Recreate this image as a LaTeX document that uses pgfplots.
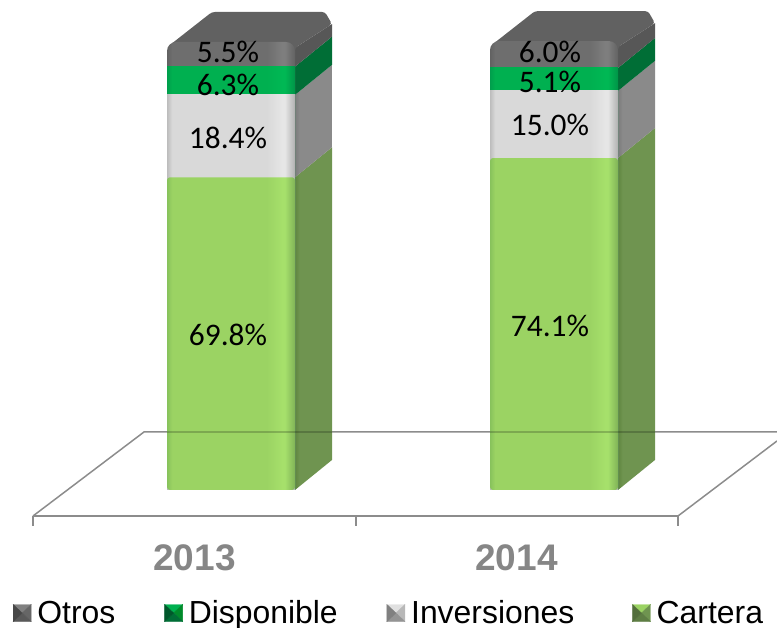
\documentclass[border=0pt]{standalone}
\usepackage{fontspec}
\setmainfont{Liberation Sans}
\newfontfamily\carlito{Carlito}
\usepackage{pgfplots}
\usepackage{pgfplotstable}
\pgfplotsset{compat=1.18}
\makeatletter
% bars are rectangles: build them from straight segments so that rounded corners apply
\renewcommand\pgfpathrectanglecorners[2]{%
  \pgf@process{#1}\edef\rc@xa{\the\pgf@x}\edef\rc@ya{\the\pgf@y}%
  \pgf@process{#2}\edef\rc@xb{\the\pgf@x}\edef\rc@yb{\the\pgf@y}%
  \pgfpathmoveto{\pgfqpoint{\rc@xa}{\rc@ya}}%
  \pgfpathlineto{\pgfqpoint{\rc@xb}{\rc@ya}}%
  \pgfpathlineto{\pgfqpoint{\rc@xb}{\rc@yb}}%
  \pgfpathlineto{\pgfqpoint{\rc@xa}{\rc@yb}}%
  \pgfpathclose}
\makeatother
\definecolor{gridg}{HTML}{8C8C8C}
\definecolor{yearg}{HTML}{868686}
\definecolor{cartS}{HTML}{6F9450}
\definecolor{cartSd}{HTML}{5F863F}
\definecolor{invS}{HTML}{8A8A8A}
\definecolor{invSd}{HTML}{7C7C7C}
\definecolor{dispS}{HTML}{006E36}
\definecolor{otrS}{HTML}{575757}
\definecolor{topF}{HTML}{616161}
\definecolor{cE}{HTML}{87C25C}\definecolor{cM}{HTML}{9BD363}\definecolor{cH}{HTML}{A6E06B}\definecolor{cD}{HTML}{80B357}
\definecolor{iE}{HTML}{BDBDBD}\definecolor{iM}{HTML}{D9D9D9}\definecolor{iH}{HTML}{E6E6E6}\definecolor{iD}{HTML}{B0B0B0}
\definecolor{dE}{HTML}{009E4C}\definecolor{dM}{HTML}{00B050}\definecolor{dH}{HTML}{00B854}\definecolor{dD}{HTML}{009447}
\definecolor{oE}{HTML}{626262}\definecolor{oM}{HTML}{6E6E6E}\definecolor{oH}{HTML}{7E7E7E}\definecolor{oD}{HTML}{626262}
\newcommand\frontshade[5]{\pgfdeclarehorizontalshading{#1}{100bp}{color(0bp)=(#2);color(25bp)=(#2);color(27bp)=(#3);color(64bp)=(#3);color(70bp)=(#4);color(71bp)=(#4);color(75bp)=(#5);color(100bp)=(#5)}}
\frontshade{cartF}{cE}{cM}{cH}{cD}
\frontshade{invF}{iE}{iM}{iH}{iD}
\frontshade{dispF}{dE}{dM}{dH}{dD}
\frontshade{otrF}{oE}{oM}{oH}{oD}
\pgfdeclarehorizontalshading{cartSide}{100bp}{color(0bp)=(cartSd);color(25bp)=(cartSd);color(31bp)=(cartS);color(100bp)=(cartS)}
\pgfdeclarehorizontalshading{invSide}{100bp}{color(0bp)=(invSd);color(25bp)=(invSd);color(31bp)=(invS);color(100bp)=(invS)}
\pgfplotstableread{
x   Cartera Inversiones Disponible Otros
231 69.8    18.4        6.3        5.5
}\sharesA
\pgfplotstableread{
x   Cartera Inversiones Disponible Otros
554 74.1    15.0        5.1        6.0
}\sharesB
\begin{document}
\begin{tikzpicture}[x=1pt,y=1pt]
\path[use as bounding box] (0,0) rectangle (777,628);
\begin{axis}[
  at={(33pt,112pt)}, anchor=south west,
  scale only axis, width=645pt, height=504pt,
  xmin=33, xmax=678, ymin=-5.804, ymax=106.696,
  clip=false,
  axis x line*=bottom, axis y line=none,
  axis line style={gridg, line width=1.5pt, -},
  x axis line style={-},
  tick style={gridg, line width=1.5pt},
  tick align=outside,
  major tick length=10pt,
  xtick={33,356,678}, xticklabels={},
  extra x ticks={194.5,516.5},
  extra x tick labels={2013,2014},
  extra x tick style={major tick length=0pt, tick style={draw=none},
    ticklabel style={font=\fontsize{37}{40}\selectfont\bfseries, text=yearg, yshift=-25pt}},
  legend style={at={(axis cs:13,-27.46)}, anchor=west, draw=none, fill=none,
    inner sep=0pt, outer sep=0pt,
    font=\fontsize{31.9}{34}\selectfont, legend columns=4,
    /tikz/every odd column/.append style={column sep=4pt},
    /tikz/column 2/.style={column sep=47pt},
    /tikz/column 4/.style={column sep=47pt},
    /tikz/column 6/.style={column sep=56pt}},
  legend cell align=left,
  legsq/.style n args={4}{legend image code/.code={
    \fill[#1] (0pt,8.5pt) -- (18pt,8.5pt) -- (9pt,0pt) -- cycle;
    \fill[#2] (18pt,8.5pt) -- (18pt,-8.5pt) -- (9pt,0pt) -- cycle;
    \fill[#3] (18pt,-8.5pt) -- (0pt,-8.5pt) -- (9pt,0pt) -- cycle;
    \fill[#4] (0pt,-8.5pt) -- (0pt,8.5pt) -- (9pt,0pt) -- cycle;
  }},
  frontbar/.style={ybar, bar width=128, bar shift=0pt, draw=none, mark=none, forget plot},
]
\addlegendimage{legsq={black!50}{black!60}{black!65}{black!72}}
\addlegendentry{Otros}
\addlegendimage{legsq={dM}{dispS!80!green}{dispS}{dispS!80!black}}
\addlegendentry{Disponible}
\addlegendimage{legsq={black!12}{black!28}{black!42}{black!50}}
\addlegendentry{Inversiones}
\addlegendimage{legsq={cM}{cartS}{cartS!85!black}{cartS!75!black}}
\addlegendentry{Cartera}
% floor
\addplot[forget plot, gridg, line width=1.5pt, mark=none] coordinates {(33,-5.804) (144,12.95) (777,12.95)};
\addplot[forget plot, gridg, line width=1.5pt, mark=none] coordinates {(678,-5.804) (777,10.94)};
% side and top faces 2013
\addplot[forget plot, shading=cartSide, draw=none, mark=none] coordinates {(295,0) (332,6.7) (332,76.5) (295,69.8)};
\addplot[forget plot, shading=invSide, draw=none, mark=none] coordinates {(295,69.8) (332,76.5) (332,94.9) (295,88.2)};
\addplot[forget plot, fill=dispS, draw=none, mark=none] coordinates {(295,88.2) (332,94.9) (332,101.2) (295,94.5)};
\addplot[forget plot, fill=otrS, draw=none, mark=none] coordinates {(295,94.5) (332,101.2) (332,104) (295,98.7)};
\addplot[forget plot, fill=topF, draw=none, mark=none, rounded corners=3pt] coordinates {(172,99.7) (212,106.7) (325,106.7) (332,104) (295,98.7) (295,95) (275,95) (275,99.7)};
% side and top faces 2014
\addplot[forget plot, shading=cartSide, draw=none, mark=none] coordinates {(618,0) (655,6.7) (655,80.8) (618,74.1)};
\addplot[forget plot, shading=invSide, draw=none, mark=none] coordinates {(618,74.1) (655,80.8) (655,95.8) (618,89.1)};
\addplot[forget plot, fill=dispS, draw=none, mark=none] coordinates {(618,89.1) (655,95.8) (655,100.9) (618,94.2)};
\addplot[forget plot, fill=otrS, draw=none, mark=none] coordinates {(618,94.2) (655,100.9) (655,104.2) (618,98.9)};
\addplot[forget plot, fill=topF, draw=none, mark=none, rounded corners=3pt] coordinates {(495,99.9) (535,106.9) (648,106.9) (655,104.2) (618,98.9) (618,95) (598,95) (598,99.9)};
% front faces, tallest first so that each one is overlaid by the next
\addplot[frontbar, shading=otrF, rounded corners=9pt]
  table[x=x, y expr=\thisrow{Cartera}+\thisrow{Inversiones}+\thisrow{Disponible}+\thisrow{Otros}] {\sharesA};
\addplot[frontbar, shading=dispF]
  table[x=x, y expr=\thisrow{Cartera}+\thisrow{Inversiones}+\thisrow{Disponible}] {\sharesA};
\addplot[frontbar, shading=invF]
  table[x=x, y expr=\thisrow{Cartera}+\thisrow{Inversiones}] {\sharesA};
\addplot[frontbar, shading=cartF, rounded corners=3pt]
  table[x=x, y=Cartera] {\sharesA};
\addplot[frontbar, shading=otrF, rounded corners=9pt]
  table[x=x, y expr=\thisrow{Cartera}+\thisrow{Inversiones}+\thisrow{Disponible}+\thisrow{Otros}] {\sharesB};
\addplot[frontbar, shading=dispF]
  table[x=x, y expr=\thisrow{Cartera}+\thisrow{Inversiones}+\thisrow{Disponible}] {\sharesB};
\addplot[frontbar, shading=invF]
  table[x=x, y expr=\thisrow{Cartera}+\thisrow{Inversiones}] {\sharesB};
\addplot[frontbar, shading=cartF, rounded corners=3pt]
  table[x=x, y=Cartera] {\sharesB};
% back floor line seen through the bars
\addplot[forget plot, black, opacity=0.2, line width=1.5pt, mark=none] coordinates {(167,12.95) (332,12.95)};
\addplot[forget plot, black, opacity=0.2, line width=1.5pt, mark=none] coordinates {(490,12.95) (655,12.95)};
% data labels
\begin{scope}[every node/.style={font=\carlito\fontsize{31.4}{33}\selectfont, text=black, inner sep=0pt}]
\node at (axis cs:228,97.7) {5.5\%};
\node at (axis cs:228,90.4) {6.3\%};
\node at (axis cs:228,78.5) {18.4\%};
\node at (axis cs:228,34.6) {69.8\%};
\node at (axis cs:550,97.7) {6.0\%};
\node at (axis cs:550,91.0) {5.1\%};
\node at (axis cs:550,81.4) {15.0\%};
\node at (axis cs:550,36.6) {74.1\%};
\end{scope}
\end{axis}
\end{tikzpicture}
\end{document}
